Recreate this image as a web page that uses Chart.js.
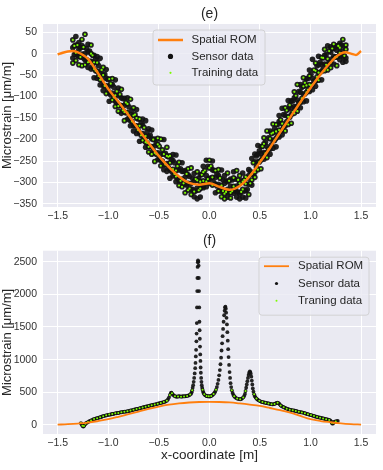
<!DOCTYPE html>
<html>
<head>
<meta charset="utf-8">
<script src="https://cdn.jsdelivr.net/npm/chart.js@4.4.1/dist/chart.umd.min.js"></script>
<style>
  html, body { margin: 0; padding: 0; background: #fff; }
  #wrap { position: relative; width: 383px; height: 470px; overflow: hidden; }
  canvas { position: absolute; left: 0; }
  #chartE { top: 0; }
  #chartF { top: 233px; }
</style>
</head>
<body>
<div id="wrap">
  <canvas id="chartE" width="383" height="235"></canvas>
  <canvas id="chartF" width="383" height="237"></canvas>
</div>
<script>
// ============================================
// DATA
// ============================================

const X_TICKS = [-1.5, -1, -0.5, 0, 0.5, 1, 1.5];
const X_TICK_LABELS = ['\u22121.5', '\u22121.0', '\u22120.5', '0.0', '0.5', '1.0', '1.5'];
const Y_TICKS_E = [50, 0, -50, -100, -150, -200, -250, -300, -350];
const Y_TICKS_F = [0, 500, 1000, 1500, 2000, 2500];

// (e) spatial ROM curve  [x, microstrain]
const romE = [
  [-1.5, -2], [-1.45, 2], [-1.4, 5], [-1.35, 6], [-1.3, 3], [-1.25, -3], [-1.2, -12],
  [-1.15, -28], [-1.1, -46], [-1.0, -82], [-0.9, -112], [-0.8, -143], [-0.7, -176],
  [-0.6, -208], [-0.5, -238], [-0.4, -264], [-0.3, -286], [-0.2, -301], [-0.1, -305],
  [0.0, -302], [0.1, -310], [0.2, -317], [0.3, -308], [0.4, -285], [0.5, -253],
  [0.6, -219], [0.7, -183], [0.8, -148], [0.9, -113], [1.0, -80], [1.1, -48],
  [1.2, -20], [1.25, -8], [1.3, 0], [1.35, 3], [1.4, 0], [1.45, -3], [1.5, 6],
];

// (e) sensor readings, one row per x position: [x, y1, y2, ...]
const sensorERows = [
  [-1.35, 32, -10, 14, -22], [-1.32, 20, -16, 40, 2], [-1.29, -6, 26, -26, 10],
  [-1.26, 33, -1, -28, 19], [-1.23, 0, 45, -14, -26], [-1.20, 22, -20, 4, -32],
  [-1.17, 0, -36, 20, -18], [-1.14, -36, -4, -56, -20], [-1.11, -7, -41, -57, -21],
  [-1.08, -47, -11, -61, -73], [-1.05, -32, -74, -50, -86], [-1.02, -57, -93, -37, -75],
  [-0.99, -91, -59, -111, -75], [-0.96, -58, -92, -108, -72], [-0.93, -97, -61, -111, -123],
  [-0.90, -80, -122, -98, -134], [-0.87, -103, -139, -83, -121], [-0.84, -136, -104, -156, -120],
  [-0.81, -103, -137, -153, -117], [-0.78, -142, -106, -156, -168], [-0.75, -126, -168, -144, -180],
  [-0.72, -150, -186, -130, -168], [-0.69, -184, -152, -204, -168], [-0.66, -152, -186, -202, -166],
  [-0.63, -192, -156, -206, -218], [-0.60, -175, -217, -193, -229], [-0.57, -198, -234, -178, -216],
  [-0.54, -231, -199, -251, -215], [-0.51, -197, -231, -247, -211], [-0.48, -235, -199, -249, -261],
  [-0.45, -200, -258, -234, -270], [-0.42, -238, -274, -218, -256], [-0.39, -270, -238, -290, -254],
  [-0.36, -235, -269, -285, -249], [-0.33, -272, -236, -286, -298], [-0.30, -253, -295, -271, -307],
  [-0.27, -274, -310, -254, -292], [-0.24, -304, -272, -324, -288], [-0.21, -268, -302, -318, -282],
  [-0.18, -302, -266, -316, -328], [-0.15, -279, -321, -297, -333], [-0.12, -295, -338, -275, -313],
  [-0.09, -314, -282, -334, -298], [-0.06, -262, -296, -312, -276], [-0.03, -284, -248, -298, -310],
  [0.00, -248, -290, -266, -302], [0.03, -270, -306, -250, -288], [0.06, -304, -272, -324, -288],
  [0.09, -270, -304, -320, -284], [0.12, -307, -271, -321, -333], [0.15, -284, -326, -302, -338],
  [0.18, -298, -334, -278, -316], [0.21, -324, -292, -336, -308], [0.24, -275, -309, -325, -289],
  [0.27, -308, -272, -322, -334], [0.30, -284, -326, -302, -338], [0.33, -298, -334, -278, -316],
  [0.36, -319, -287, -336, -303], [0.39, -270, -304, -328, -284], [0.42, -280, -244, -294, -306],
  [0.45, -234, -276, -252, -288], [0.48, -234, -270, -214, -252], [0.51, -248, -216, -268, -232],
  [0.54, -196, -230, -246, -210], [0.57, -216, -180, -230, -242], [0.60, -180, -222, -198, -234],
  [0.63, -184, -220, -164, -202], [0.66, -197, -165, -217, -181], [0.69, -144, -178, -194, -158],
  [0.72, -163, -127, -177, -189], [0.75, -126, -168, -144, -180], [0.78, -129, -165, -109, -147],
  [0.81, -142, -110, -162, -126], [0.84, -89, -123, -139, -103], [0.87, -108, -72, -122, -134],
  [0.90, -72, -114, -90, -126], [0.93, -76, -112, -56, -94], [0.96, -90, -58, -110, -74],
  [0.99, -38, -72, -88, -52], [1.02, -58, -13, -72, -84], [1.05, -22, -64, -40, -76],
  [1.08, -26, -62, -6, -44], [1.11, -41, -9, -61, -25], [1.14, 10, -24, -40, -4],
  [1.17, -12, 18, -26, -38], [1.20, 16, -21, 3, -33], [1.23, 12, -24, 22, -6],
  [1.26, -8, 18, -28, 8], [1.29, 24, 2, -14, 14], [1.32, 6, 33, -8, -20],
  [1.35, 20, -10, 10, -18],
];

// (e) sensor readings between the rows above
const sensorERowsMid = [
  [-1.335, 18, -2], [-1.305, -4, 20], [-1.275, 14, -8], [-1.245, -10, 15], [-1.215, 12, -14],
  [-1.185, -18, 6], [-1.155, -4, -30], [-1.125, -40, -14], [-1.095, -28, -52], [-1.065, -62, -38],
  [-1.035, -48, -75], [-1.005, -84, -60], [-0.975, -70, -96], [-0.945, -102, -78], [-0.915, -88, -114],
  [-0.885, -120, -95], [-0.855, -105, -132], [-0.825, -138, -114], [-0.795, -124, -150], [-0.765, -158, -132],
  [-0.735, -142, -168], [-0.705, -178, -152], [-0.675, -162, -190], [-0.645, -198, -172], [-0.615, -182, -208],
  [-0.585, -216, -190], [-0.555, -200, -226], [-0.525, -234, -208], [-0.495, -216, -244], [-0.465, -250, -224],
  [-0.435, -232, -258], [-0.405, -266, -240], [-0.375, -246, -274], [-0.345, -280, -254], [-0.315, -262, -290],
  [-0.285, -296, -268], [-0.255, -274, -302], [-0.225, -306, -280], [-0.195, -286, -314], [-0.165, -316, -290],
  [-0.135, -292, -320], [-0.105, -318, -290], [-0.075, -282, -310], [-0.045, -300, -272], [-0.015, -262, -292],
  [0.015, -290, -262], [0.045, -272, -300], [0.075, -308, -280], [0.105, -290, -316], [0.135, -320, -294],
  [0.165, -296, -322], [0.195, -324, -296], [0.225, -294, -320], [0.255, -318, -292], [0.285, -294, -322],
  [0.315, -322, -296], [0.345, -294, -320], [0.375, -316, -290], [0.405, -274, -302], [0.435, -282, -254],
  [0.465, -238, -264], [0.495, -252, -226], [0.525, -216, -242], [0.555, -232, -206], [0.585, -196, -222],
  [0.615, -212, -186], [0.645, -175, -202], [0.675, -192, -165], [0.705, -154, -180], [0.735, -170, -142],
  [0.765, -132, -158], [0.795, -148, -120], [0.825, -110, -136], [0.855, -126, -98], [0.885, -88, -114],
  [0.915, -104, -78], [0.945, -68, -94], [0.975, -84, -58], [1.005, -48, -74], [1.035, -64, -38],
  [1.065, -28, -54], [1.095, -44, -20], [1.125, -10, -36], [1.155, -26, -2], [1.185, 6, -20],
  [1.215, -12, 12], [1.245, 16, -8], [1.275, -6, 18], [1.305, 20, -4], [1.335, -5, 18],
];

// (f) spatial ROM curve
const romF = [
  [-1.5, 5], [-1.4, 12], [-1.3, 22], [-1.2, 36], [-1.1, 60], [-1.0, 88], [-0.9, 125],
  [-0.8, 165], [-0.7, 205], [-0.6, 245], [-0.5, 281], [-0.4, 310], [-0.3, 330],
  [-0.2, 344], [-0.1, 352], [0.0, 354], [0.1, 352], [0.2, 345], [0.3, 330], [0.4, 312],
  [0.5, 291], [0.6, 260], [0.7, 228], [0.8, 190], [0.9, 138], [1.0, 88], [1.1, 60],
  [1.2, 42], [1.3, 26], [1.4, 14], [1.5, 5],
];

// (f) sensor readings [x, microstrain]
const sensorF = [
  [-1.27, 30], [-1.265, 15], [-1.26, 5], [-1.255, -10], [-1.25, -20], [-1.245, -25], [-1.24, -15],
  [-1.235, 0], [-1.23, 10], [-1.225, 20], [-1.22, 28], [-1.21, 35], [-1.2, 45], [-1.19, 55],
  [-1.18, 62], [-1.17, 70], [-1.16, 75], [-1.15, 85], [-1.14, 90], [-1.13, 95], [-1.12, 100],
  [-1.11, 105], [-1.10, 110], [-1.09, 112], [-1.08, 120], [-1.07, 122], [-1.06, 130], [-1.05, 135],
  [-1.04, 140], [-1.03, 143], [-1.02, 148], [-1.01, 150], [-1.0, 155], [-0.99, 160], [-0.98, 158],
  [-0.97, 165], [-0.96, 170], [-0.95, 168], [-0.94, 175], [-0.93, 178], [-0.92, 180], [-0.91, 185],
  [-0.9, 183], [-0.89, 190], [-0.88, 192], [-0.87, 195], [-0.86, 198], [-0.85, 200], [-0.84, 203],
  [-0.83, 206], [-0.82, 205], [-0.81, 210], [-0.8, 212], [-0.79, 215], [-0.78, 222], [-0.77, 225],
  [-0.76, 228], [-0.75, 232], [-0.74, 238], [-0.73, 240], [-0.72, 245], [-0.71, 248], [-0.70, 250],
  [-0.69, 255], [-0.68, 260], [-0.67, 262], [-0.66, 268], [-0.65, 272], [-0.64, 275], [-0.63, 280],
  [-0.62, 283], [-0.61, 288], [-0.60, 290], [-0.59, 295], [-0.58, 300], [-0.57, 302], [-0.56, 306],
  [-0.55, 310], [-0.54, 312], [-0.53, 318], [-0.52, 320], [-0.51, 325], [-0.50, 330], [-0.49, 334],
  [-0.48, 338], [-0.47, 342], [-0.46, 346], [-0.45, 350], [-0.44, 356], [-0.43, 362], [-0.42, 372],
  [-0.41, 390], [-0.40, 420], [-0.39, 460], [-0.38, 490], [-0.375, 495], [-0.37, 485], [-0.36, 465],
  [-0.35, 450], [-0.34, 440], [-0.33, 435], [-0.32, 432], [-0.31, 436], [-0.30, 440], [-0.29, 438],
  [-0.28, 434], [-0.27, 436], [-0.26, 440], [-0.25, 437], [-0.24, 440], [-0.23, 442], [-0.22, 445],
  [-0.21, 450], [-0.20, 455], [-0.19, 465], [-0.18, 480],
  [-0.175, 500], [-0.17, 530], [-0.165, 570], [-0.16, 610], [-0.155, 660], [-0.15, 720], [-0.145, 790],
  [-0.14, 870], [-0.137, 950], [-0.134, 1050], [-0.131, 1150], [-0.128, 1280], [-0.126, 1400],
  [-0.124, 1560], [-0.122, 1800], [-0.12, 2050], [-0.118, 2250], [-0.116, 2420], [-0.114, 2490],
  [-0.112, 2520], [-0.108, 2500], [-0.106, 2440], [-0.104, 2250], [-0.102, 2050], [-0.10, 1800],
  [-0.098, 1580], [-0.096, 1450], [-0.094, 1320], [-0.092, 1200], [-0.09, 1080], [-0.088, 980],
  [-0.086, 880], [-0.084, 800], [-0.081, 720], [-0.078, 660], [-0.075, 610], [-0.071, 570],
  [-0.067, 540], [-0.062, 510], [-0.057, 490], [-0.05, 470], [-0.043, 458], [-0.035, 450],
  [-0.027, 444], [-0.02, 440], [-0.012, 438], [-0.005, 440], [0.002, 436], [0.01, 440], [0.018, 445],
  [0.026, 452], [0.034, 462], [0.042, 475],
  [0.05, 490], [0.058, 510], [0.066, 540], [0.074, 580], [0.082, 630], [0.09, 690], [0.097, 760],
  [0.104, 840], [0.11, 930], [0.116, 1030], [0.121, 1140], [0.126, 1250], [0.131, 1360], [0.136, 1470],
  [0.141, 1580], [0.146, 1680], [0.151, 1750], [0.155, 1800], [0.159, 1810], [0.163, 1780],
  [0.166, 1720], [0.17, 1640], [0.174, 1540], [0.178, 1420], [0.182, 1290], [0.186, 1160],
  [0.19, 1040], [0.195, 920], [0.2, 810], [0.205, 720], [0.21, 640], [0.216, 580], [0.222, 530],
  [0.23, 490], [0.238, 460], [0.246, 440], [0.255, 425], [0.265, 412], [0.275, 405], [0.285, 400],
  [0.295, 396], [0.305, 394], [0.315, 398], [0.325, 408], [0.335, 422], [0.345, 445],
  [0.352, 475], [0.358, 520], [0.364, 570], [0.37, 620], [0.376, 670], [0.382, 720], [0.388, 765],
  [0.394, 800], [0.4, 820], [0.405, 810], [0.41, 785], [0.415, 740], [0.42, 680], [0.425, 620],
  [0.43, 560], [0.436, 510], [0.443, 470], [0.45, 440], [0.458, 420], [0.466, 405], [0.475, 392],
  [0.485, 380], [0.495, 370],
  [0.505, 362], [0.515, 355], [0.525, 350], [0.535, 348], [0.545, 342], [0.555, 340], [0.565, 335],
  [0.575, 333], [0.585, 330], [0.595, 325], [0.605, 322], [0.615, 318], [0.625, 315], [0.635, 318],
  [0.645, 322], [0.655, 330], [0.665, 338], [0.675, 342], [0.685, 335], [0.695, 318], [0.705, 300],
  [0.715, 288], [0.725, 280], [0.735, 272], [0.745, 265], [0.755, 258], [0.765, 250], [0.775, 245],
  [0.785, 240], [0.795, 235], [0.805, 232], [0.815, 228], [0.825, 225], [0.835, 222], [0.845, 218],
  [0.855, 214], [0.865, 210], [0.875, 206], [0.885, 202], [0.895, 198], [0.905, 195], [0.915, 192],
  [0.925, 190], [0.935, 186], [0.945, 180], [0.955, 175], [0.965, 168], [0.975, 165], [0.985, 160],
  [0.995, 155], [1.005, 152], [1.015, 148], [1.025, 140], [1.035, 138], [1.045, 130], [1.055, 128],
  [1.065, 122], [1.075, 118], [1.085, 115], [1.095, 112], [1.105, 108], [1.115, 104], [1.125, 100],
  [1.135, 96], [1.145, 92], [1.155, 88], [1.165, 85], [1.175, 80], [1.185, 76], [1.195, 72],
  [1.205, 55], [1.21, 35], [1.215, 25], [1.22, 20], [1.225, 30], [1.23, 45], [1.24, 50], [1.25, 55],
  [1.26, 60], [1.27, 62],
];

// ============================================
// HELPERS
// ============================================

const FONT = '"Liberation Sans", Arial, Helvetica, sans-serif';
const ORANGE = '#ff7f0e';
const GREEN = '#7cfc00';
const BG = '#eaeaf2';

const toPoints = (pairs) => pairs.map((p) => ({ x: p[0], y: p[1] }));

// flatten rows of [x, y1, y2, ...] into points
function rowsToPoints(rows) {
  const pts = [];
  rows.forEach((r) => {
    for (let i = 1; i < r.length; i++) pts.push({ x: r[0], y: r[i] });
  });
  return pts;
}

const minus = (v) => String(v).replace('-', '\u2212');

// fill plot area background
const bgPlugin = {
  id: 'plotBg',
  beforeDraw(chart) {
    const { ctx, chartArea: a } = chart;
    ctx.save();
    ctx.fillStyle = BG;
    ctx.fillRect(a.left, a.top, a.right - a.left, a.bottom - a.top);
    ctx.restore();
  },
};

// matplotlib style legend box inside the axes
const boxLegendPlugin = {
  id: 'boxLegend',
  afterDraw(chart, args, o) {
    const { ctx, chartArea: a } = chart;
    const left = o.anchor === 'right' ? a.right - o.offX - o.w : a.left + o.offX;
    const top = a.top + o.offY;
    ctx.save();
    ctx.beginPath();
    ctx.roundRect(left, top, o.w, o.h, 3);
    ctx.fillStyle = 'rgba(234,234,242,0.8)';
    ctx.fill();
    ctx.strokeStyle = '#cccccc';
    ctx.lineWidth = 0.8;
    ctx.stroke();

    ctx.font = '11.5px ' + FONT;
    ctx.textBaseline = 'middle';
    o.items.forEach((it, i) => {
      const y = top + o.firstRow + i * o.rowGap;
      if (it.kind === 'line') {
        ctx.strokeStyle = it.color;
        ctx.lineWidth = it.width;
        ctx.beginPath();
        ctx.moveTo(left + 5, y);
        ctx.lineTo(left + 30, y);
        ctx.stroke();
      } else {
        ctx.fillStyle = it.color;
        ctx.beginPath();
        ctx.arc(left + 17.5, y, it.r, 0, Math.PI * 2);
        ctx.fill();
      }
      ctx.fillStyle = '#262626';
      ctx.fillText(it.label, left + o.textX, y);
    });
    ctx.restore();
  },
};

function makePanel(canvasId, cfg) {
  const ctx = document.getElementById(canvasId).getContext('2d');
  return new Chart(ctx, {
    type: 'scatter',
    data: {
      datasets: [
        {
          label: 'Spatial ROM',
          data: toPoints(cfg.rom),
          showLine: true,
          borderColor: ORANGE,
          borderWidth: cfg.lineWidth,
          pointRadius: 0,
          cubicInterpolationMode: 'monotone',
        },
        {
          label: cfg.trainLabel,
          data: cfg.training,
          backgroundColor: GREEN,
          pointRadius: cfg.trainR,
          pointBorderWidth: 0,
        },
        {
          label: 'Sensor data',
          data: cfg.sensor,
          backgroundColor: 'rgba(18,18,18,0.92)',
          pointRadius: cfg.sensorR,
          pointBorderWidth: 0,
        },
      ],
    },
    options: {
      responsive: false,
      animation: false,
      devicePixelRatio: 1,
      layout: { padding: { left: 0, right: 7, top: 0, bottom: 0 } },
      plugins: {
        legend: { display: false },
        tooltip: { enabled: false },
        title: {
          display: true,
          text: cfg.title,
          fullSize: false,
          color: '#262626',
          font: { family: FONT, size: 14, weight: 'normal' },
          padding: cfg.titlePad,
        },
        boxLegend: cfg.legend,
      },
      scales: {
        x: {
          type: 'linear',
          min: -1.645,
          max: 1.648,
          afterBuildTicks: (s) => {
            s.ticks = X_TICKS.map((v) => ({ value: v }));
          },
          afterFit: (s) => {
            s.height = cfg.xHeight;
          },
          grid: { color: '#ffffff', lineWidth: 1, drawTicks: false },
          border: { display: false },
          ticks: {
            color: '#333333',
            font: { family: FONT, size: 10.5 },
            padding: 3,
            maxRotation: 0,
            autoSkip: false,
            callback: (v) => X_TICK_LABELS[X_TICKS.indexOf(v)],
          },
          title: {
            display: cfg.showXTitle,
            text: 'x-coordinate [m]',
            color: '#262626',
            font: { family: FONT, size: 13.5 },
            padding: { top: 0, bottom: 7 },
          },
        },
        y: {
          type: 'linear',
          min: cfg.yMin,
          max: cfg.yMax,
          afterBuildTicks: (s) => {
            s.ticks = cfg.yTicks.map((v) => ({ value: v }));
          },
          afterFit: (s) => {
            s.width = 43;
          },
          grid: { color: '#ffffff', lineWidth: 1, drawTicks: false },
          border: { display: false },
          ticks: {
            color: '#333333',
            font: { family: FONT, size: 10.5 },
            padding: 6,
            autoSkip: false,
            callback: (v) => minus(v),
          },
          title: {
            display: true,
            text: 'Microstrain [\u03bcm/m]',
            color: '#262626',
            font: { family: FONT, size: 13 },
            padding: { top: 0, bottom: 0 },
          },
        },
      },
    },
    plugins: [bgPlugin, boxLegendPlugin],
  });
}

// ============================================
// INITIALIZATION
// ============================================

const sensorE = rowsToPoints(sensorERows.concat(sensorERowsMid));
// training points are a subset of the sensor readings
const trainingE = sensorE.filter((p, i) => i % 7 === 0 || i % 7 === 3 || i % 7 === 5);
const sensorFPts = toPoints(sensorF);
const trainingF = sensorFPts.filter((p, i) => i % 3 === 0 && p.y < 560);

makePanel('chartE', {
  title: '(e)',
  titlePad: { top: 6, bottom: 1.2 },
  rom: romE,
  sensor: sensorE,
  training: trainingE,
  trainLabel: 'Training data',
  sensorR: 2.8,
  trainR: 1.1,
  lineWidth: 2.5,
  yMin: -357,
  yMax: 69,
  yTicks: Y_TICKS_E,
  xHeight: 28,
  showXTitle: false,
  legend: {
    anchor: 'left', offX: 110, offY: 6, w: 112, h: 55,
    firstRow: 10, rowGap: 16.4, textX: 38.5,
    items: [
      { kind: 'line', color: ORANGE, width: 2.5, label: 'Spatial ROM' },
      { kind: 'dot', color: '#121212', r: 2.6, label: 'Sensor data' },
      { kind: 'dot', color: GREEN, r: 1.1, label: 'Training data' },
    ],
  },
});

makePanel('chartF', {
  title: '(f)',
  titlePad: { top: 0, bottom: 0.9 },
  rom: romF,
  sensor: sensorFPts,
  training: trainingF,
  trainLabel: 'Traning data',
  sensorR: 1.9,
  trainR: 1.0,
  lineWidth: 1.8,
  yMin: -138,
  yMax: 2668,
  yTicks: Y_TICKS_F,
  xHeight: 36,
  showXTitle: true,
  legend: {
    anchor: 'right', offX: 7, offY: 6.5, w: 110, h: 58,
    firstRow: 9, rowGap: 17.3, textX: 39,
    items: [
      { kind: 'line', color: ORANGE, width: 1.8, label: 'Spatial ROM' },
      { kind: 'dot', color: '#121212', r: 1.6, label: 'Sensor data' },
      { kind: 'dot', color: GREEN, r: 1.0, label: 'Traning data' },
    ],
  },
});
</script>
</body>
</html>
